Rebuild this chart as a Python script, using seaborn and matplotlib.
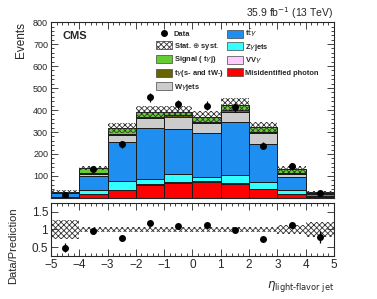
import numpy as np
import pandas as pd
import matplotlib
matplotlib.use("Agg")
import matplotlib.pyplot as plt
from matplotlib.patches import Patch
from matplotlib.lines import Line2D
from matplotlib.ticker import MultipleLocator
import seaborn as sns

# binning in eta of the light-flavor jet
edges = np.arange(-5, 6, 1)
centers = 0.5 * (edges[:-1] + edges[1:])

# predicted yields per bin
signal = [3, 23, 26, 22, 15, 25, 25, 24, 18, 3]
tgamma = [1, 3, 6, 6, 6, 6, 6, 6, 3, 1]
wgamma = [3, 9, 30, 45, 58, 45, 48, 49, 12, 3]
ttgamma = [16, 65, 179, 231, 204, 199, 241, 174, 61, 12]
zgamma = [3.5, 18, 39, 24, 35, 19, 36, 29, 17, 5.5]
vvgamma = [0.5, 1, 2, 3, 3, 3, 3, 2, 1, 0.5]
misid = [2, 17, 36, 59, 70, 73, 64, 40, 18, 2]

data = [14, 132, 245, 458, 426, 420, 412, 238, 147, 21]
rel_unc = [0.26, 0.07, 0.07, 0.07, 0.07, 0.07, 0.07, 0.07, 0.12, 0.22]

# top of the stack first (seaborn stacks the first hue level on top)
processes = ["signal", "tgamma", "wgamma", "ttgamma", "zgamma", "vvgamma", "misid"]
yields = [signal, tgamma, wgamma, ttgamma, zgamma, vvgamma, misid]
colors = {
    "signal": "#66cc33",
    "tgamma": "#666600",
    "wgamma": "#cccccc",
    "ttgamma": "#1e8ff0",
    "zgamma": "#33ffff",
    "vvgamma": "#ffccff",
    "misid": "#ff0000",
}

sns.set_style("ticks")
plt.rcParams["font.family"] = ["Liberation Sans", "DejaVu Sans"]
plt.rcParams["hatch.linewidth"] = 0.6

rows = []
for name, vals in zip(processes, yields):
    for c, v in zip(centers, vals):
        rows.append({"eta": c, "events": v, "process": name})
df = pd.DataFrame(rows)

total = np.sum(np.array(yields, dtype=float), axis=0)
data = np.array(data, dtype=float)
rel_unc = np.array(rel_unc)

fig = plt.figure(figsize=(3.77, 2.99), dpi=100)
ax = fig.add_axes([0.135, 0.338, 0.751, 0.588])
ax2 = fig.add_axes([0.135, 0.144, 0.751, 0.177])

sns.histplot(
    data=df, x="eta", weights="events", hue="process",
    hue_order=processes, palette=colors, multiple="stack",
    binwidth=1, binrange=(-5, 5), element="bars", alpha=1,
    edgecolor="#1a1a1a", linewidth=0.7, legend=False, ax=ax
)

# stat + syst band
hatch = "xxxxxx"
ax.bar(centers, 2 * total * rel_unc, bottom=total * (1 - rel_unc), width=1,
       fill=False, hatch=hatch, edgecolor="#333333", linewidth=0)

ax.errorbar(centers, data, yerr=np.sqrt(data), fmt="o", color="black",
            markersize=4, elinewidth=0.9, capsize=0)

ax.set_xlim(-5, 5)
ax.set_ylim(0, 800)
ax.set_xlabel("")
ax.set_ylabel("Events", fontsize=8.5, loc="top", labelpad=4)
ax.yaxis.set_major_locator(MultipleLocator(100))
ax.yaxis.set_minor_locator(MultipleLocator(20))
ax.xaxis.set_major_locator(MultipleLocator(1))
ax.xaxis.set_minor_locator(MultipleLocator(0.2))
ax.set_yticks(range(100, 801, 100))
ax.tick_params(which="both", direction="in", top=True, right=True,
               labelbottom=False, labelsize=6.5, width=0.6, pad=2)
ax.tick_params(which="major", length=5)
ax.tick_params(which="minor", length=2.5)

ax.text(0.04, 0.92, "CMS", transform=ax.transAxes, fontsize=8,
        fontweight="bold", va="center")
fig.text(0.884, 0.955, "35.9 fb$^{-1}$ (13 TeV)", ha="right", va="center",
         fontsize=7.5)

handles = [
    Line2D([], [], marker="o", color="black", linestyle="none",
           markersize=4),
    Patch(facecolor="white", edgecolor="#333333", hatch=hatch, linewidth=0.5),
    Patch(facecolor=colors["signal"], edgecolor="#444444", linewidth=0.5),
    Patch(facecolor=colors["tgamma"], edgecolor="#444444", linewidth=0.5),
    Patch(facecolor=colors["wgamma"], edgecolor="#444444", linewidth=0.5),
    Patch(facecolor=colors["ttgamma"], edgecolor="#444444", linewidth=0.5),
    Patch(facecolor=colors["zgamma"], edgecolor="#444444", linewidth=0.5),
    Patch(facecolor=colors["vvgamma"], edgecolor="#444444", linewidth=0.5),
    Patch(facecolor=colors["misid"], edgecolor="#444444", linewidth=0.5),
]
labels = [
    "Data",
    "Stat. $\\oplus$ syst.",
    "Signal ( t$\\gamma$j)",
    "t$\\gamma$(s- and tW-)",
    "W$\\gamma$jets",
    "t$\\bar{\\rm t}\\gamma$",
    "Z$\\gamma$jets",
    "VV$\\gamma$",
    "Misidentified photon",
]
leg = ax.legend(handles, labels, ncol=2, loc="upper left",
                bbox_to_anchor=(0.36, 0.985), frameon=False,
                prop={"size": 5.4, "weight": "bold"}, handlelength=2.1,
                handleheight=1.25, labelspacing=0.35, columnspacing=0.5,
                handletextpad=0.3, borderaxespad=0)

# ratio panel
ratio = data / total
ratio_err = np.sqrt(data) / total
ax2.bar(centers, 2 * rel_unc, bottom=1 - rel_unc, width=1, fill=False,
        hatch=hatch, edgecolor="#333333", linewidth=0)
ax2.errorbar(centers, ratio, yerr=ratio_err, fmt="o", color="black",
             markersize=4, elinewidth=0.9, capsize=0)
ax2.set_xlim(-5, 5)
ax2.set_ylim(0.25, 1.75)
ax2.set_yticks([0.5, 1, 1.5])
ax2.set_yticklabels(["0.5", "1", "1.5"])
ax2.xaxis.set_major_locator(MultipleLocator(1))
ax2.xaxis.set_minor_locator(MultipleLocator(0.2))
ax2.tick_params(which="both", direction="in", top=True, right=True,
                labelsize=8.5, width=0.6, pad=2)
ax2.tick_params(which="major", length=5)
ax2.tick_params(which="minor", length=2)
ax2.set_ylabel("Data/Prediction", fontsize=8)
ax2.yaxis.set_label_coords(-0.115, 0.2)
ax2.set_xlabel("$\\eta_{\\rm light\\text{-}flavor\\ jet}$", fontsize=8.5,
               loc="right", labelpad=6)

for a in (ax, ax2):
    for s in a.spines.values():
        s.set_linewidth(0.8)

fig.savefig("out.png", dpi=100)
